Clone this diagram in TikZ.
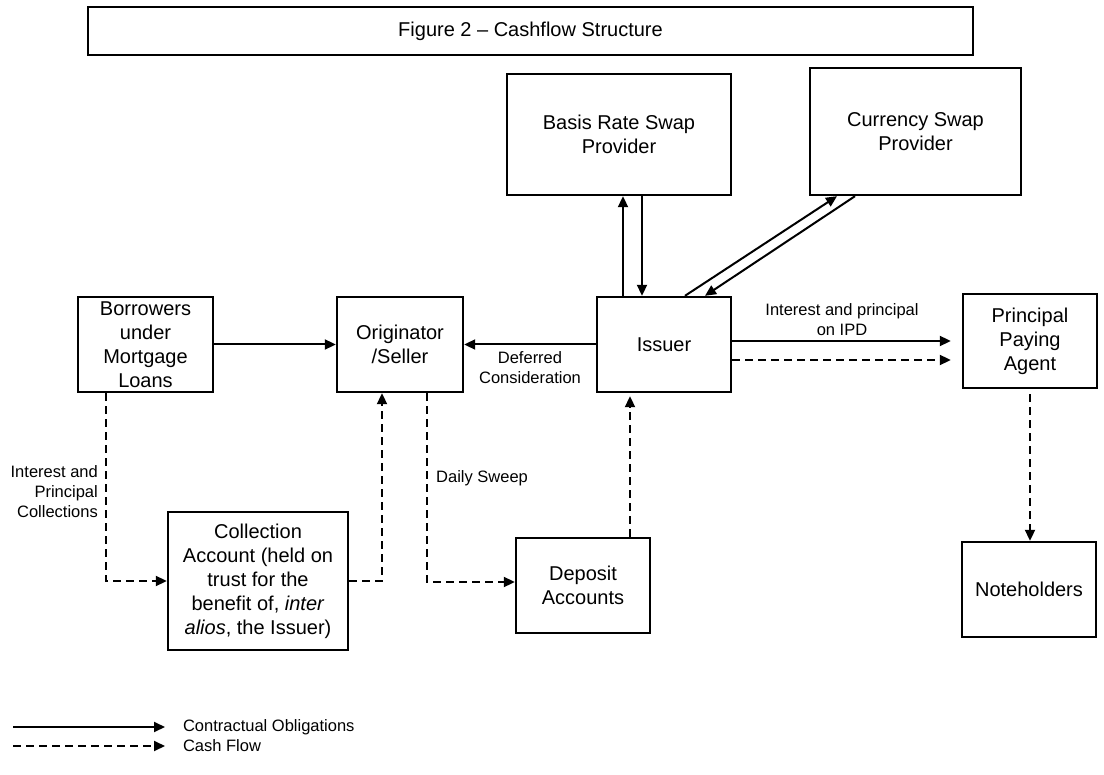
\documentclass[tikz,border=0pt]{standalone}
\usepackage{fontspec}
\setmainfont{Liberation Sans}
\usetikzlibrary{arrows.meta}

\begin{document}
\begin{tikzpicture}[x=1pt, y=-1pt]
  \tikzset{party/.style={draw, line width=2.4pt, align=center, inner sep=0pt,
                         font=\fontsize{20}{24}\selectfont},
           flowlabel/.style={align=center, inner sep=0pt, font=\fontsize{16.5}{20}\selectfont},
           contract/.style={line width=2pt, -{Triangle[length=11pt,width=10pt]}},
           cash/.style={contract, dash pattern=on 8pt off 5pt}}
  \useasboundingbox (0,0) rectangle (1104,775);
  \node[party, minimum width=885pt, minimum height=48pt] (title) at (530.5,31) {Figure 2 -- Cashflow Structure};
  \node[party, minimum width=224pt, minimum height=121pt] (basis) at (619,134.5) {Basis Rate Swap\\Provider};
  \node[party, minimum width=211pt, minimum height=127pt] (currency) at (915.5,131.5) {Currency Swap\\Provider};
  \node[party, minimum width=135pt, minimum height=95pt] (borrowers) at (145.5,344.5) {Borrowers\\under\\Mortgage\\Loans};
  \node[party, minimum width=126pt, minimum height=95pt] (originator) at (400,344.5) {Originator\\/Seller};
  \node[party, minimum width=134pt, minimum height=95pt] (issuer) at (664,344.5) {Issuer};
  \node[party, minimum width=134pt, minimum height=94pt] (agent) at (1030,341) {Principal\\Paying\\Agent};
  \node[party, minimum width=180pt, minimum height=138pt] (collection) at (258,581)
    {Collection\\Account (held on\\trust for the\\benefit of, \textit{inter}\\\textit{alios}, the Issuer)};
  \node[party, minimum width=134pt, minimum height=95pt] (deposit) at (583,585.5) {Deposit\\Accounts};
  \node[party, minimum width=134pt, minimum height=95pt] (noteholders) at (1029,589.5) {Noteholders};

  \draw[contract] (borrowers) -- (originator);
  \draw[contract] (issuer) -- (originator);
  \node[flowlabel] (deferred) at (530,368) {Deferred\\Consideration};
  \draw[contract, shorten >=11pt] (issuer.east |- agent.west) -- (agent.west);
  \draw[cash, shorten >=11pt] (issuer.east |- 0,360) -- ([yshift=-19pt]agent.west);
  \node[flowlabel] (ipd) at (842,319.5) {Interest and principal\\on IPD};
  \draw[contract] ([xshift=-41pt]issuer.north) -- ([xshift=-41pt]issuer.north |- basis.south);
  \draw[contract] ([xshift=-22pt]issuer.north |- basis.south) -- ([xshift=-22pt]issuer.north);
  \draw[contract] ([xshift=21pt]issuer.north) -- ([xshift=-78.5pt]currency.south);
  \draw[contract] ([xshift=-60.5pt]currency.south) -- ([xshift=41pt]issuer.north);

  \draw[cash] ([xshift=-39.5pt]borrowers.south) |- (collection.west);
  \node[flowlabel, anchor=east, align=right] (collections) at (98,492) {Interest and\\Principal\\Collections};
  \draw[cash] (collection.east) -| ([xshift=-18pt]originator.south);
  \draw[cash] ([xshift=27pt]originator.south) |- ([yshift=3.5pt]deposit.west);
  \node[flowlabel, anchor=west] (sweep) at (436,478) {Daily Sweep};
  \draw[cash, shorten >=3pt] ([xshift=47pt]deposit.north) -- ([xshift=47pt]deposit.north |- issuer.south);
  \draw[cash, shorten <=5pt] (agent.south) -- (agent.south |- noteholders.north);

  \coordinate (solidstart) at (13,727);
  \coordinate (solidend) at (165,727);
  \coordinate (dashstart) at (13,746);
  \coordinate (dashend) at (165,746);
  \draw[contract] (solidstart) -- (solidend) node[flowlabel, right=17pt] (contractkey) {Contractual Obligations};
  \draw[cash] (dashstart) -- (dashend) node[flowlabel, right=17pt] (cashkey) {Cash Flow};
\end{tikzpicture}
\end{document}
